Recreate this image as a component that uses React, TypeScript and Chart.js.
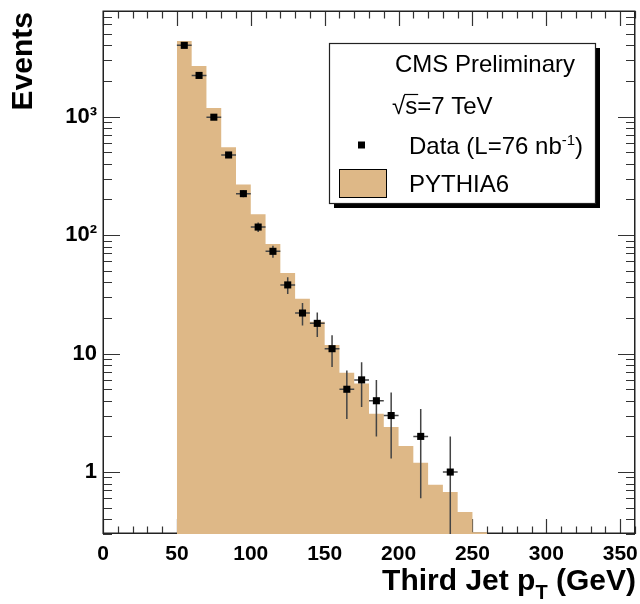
import React, { useEffect, useRef } from 'react';
import { Chart, registerables } from 'chart.js';

Chart.register(...registerables);

// ---- data ----
const binLowEdges = [50, 60, 70, 80, 90, 100, 110, 120, 130, 140, 150, 160, 170, 180, 190, 200, 210, 220, 230, 240, 250];
const binWidth = 10;
const pythiaValues = [4350, 2680, 1183, 552, 267, 150, 84, 48, 29, 18.6, 11.8, 6.9, 5.6, 3.1, 2.4, 1.66, 1.2, 0.78, 0.68, 0.46, 0.31];

const dataCenters = [55, 65, 75, 85, 95, 105, 115, 125, 135, 145, 155, 165, 175, 185, 195, 215, 235];
const dataCounts = [4000, 2230, 990, 475, 224, 117, 73, 38, 22, 18, 11, 5, 6, 4, 3, 2, 1];
const dataErrors = [63, 47, 31, 22, 15, 10.8, 8.5, 6.2, 4.7, 4.2, 3.3, 2.2, 2.45, 2, 1.7, 1.4, 1];

const xTickValues = [0, 50, 100, 150, 200, 250, 300, 350];
const yTickValues = [1, 10, 100, 1000];
const yTickLabels = ['1', '10', '10²', '10³'];

const X_MIN = 0;
const X_MAX = 360;
const Y_MIN = 0.3;
const Y_MAX = 7800;

const FILL = '#DEB887';
const FONT = '"Liberation Sans", Arial, Helvetica, sans-serif';

const framePlugin = {
  id: 'rootFrame',
  beforeDatasetsDraw(chart: any) {
    const { ctx, chartArea } = chart;
    const { left, right, top, bottom } = chartArea;
    const xs = chart.scales.x;
    const ys = chart.scales.y;
    ctx.save();
    ctx.strokeStyle = '#333';
    ctx.lineWidth = 1.2;
    // x ticks
    for (let v = X_MIN; v <= X_MAX; v += 10) {
      const px = Math.round(xs.getPixelForValue(v)) + 0.5;
      const len = v % 50 === 0 ? 15 : 7.5;
      ctx.beginPath();
      ctx.moveTo(px, bottom);
      ctx.lineTo(px, bottom - len);
      ctx.moveTo(px, top);
      ctx.lineTo(px, top + len);
      ctx.stroke();
    }
    // y ticks (log)
    for (let d = -1; d <= 3; d++) {
      for (let m = 1; m <= 9; m++) {
        const v = m * Math.pow(10, d);
        if (v < Y_MIN || v > Y_MAX) continue;
        const py = Math.round(ys.getPixelForValue(v)) + 0.5;
        const len = m === 1 ? 17 : 9;
        ctx.beginPath();
        ctx.moveTo(left, py);
        ctx.lineTo(left + len, py);
        ctx.moveTo(right, py);
        ctx.lineTo(right - len, py);
        ctx.stroke();
      }
    }
    // frame
    ctx.strokeStyle = '#222';
    ctx.lineWidth = 1.5;
    ctx.strokeRect(left + 0.25, top + 0.25, right - left - 0.5, bottom - top - 1);
    ctx.restore();
  },
};

const errorBarPlugin = {
  id: 'errorBars',
  beforeDatasetDraw(chart: any, args: any) {
    if (args.index !== 1) return;
    const { ctx, chartArea } = chart;
    const xs = chart.scales.x;
    const ys = chart.scales.y;
    ctx.save();
    ctx.beginPath();
    ctx.rect(chartArea.left, chartArea.top, chartArea.right - chartArea.left, chartArea.bottom - chartArea.top);
    ctx.clip();
    ctx.strokeStyle = '#444';
    ctx.lineWidth = 1.5;
    dataCenters.forEach((xc, i) => {
      const y = dataCounts[i];
      const e = dataErrors[i];
      const px = xs.getPixelForValue(xc);
      const py = ys.getPixelForValue(y);
      const yHi = ys.getPixelForValue(y + e);
      const lo = y - e;
      const yLo = lo > 0 ? ys.getPixelForValue(lo) : chartArea.bottom + 2;
      ctx.beginPath();
      ctx.moveTo(px, yHi);
      ctx.lineTo(px, yLo);
      ctx.moveTo(xs.getPixelForValue(xc - binWidth / 2), py);
      ctx.lineTo(xs.getPixelForValue(xc + binWidth / 2), py);
      ctx.stroke();
    });
    ctx.restore();
  },
};

const legendPlugin = {
  id: 'rootLegend',
  afterDraw(chart: any) {
    const { ctx } = chart;
    const L = 329, T = 43, R = 595, B = 203;
    ctx.save();
    // shadow
    ctx.fillStyle = '#000';
    ctx.fillRect(L + 5, T + 5, R - L, B - T);
    ctx.fillStyle = '#fff';
    ctx.fillRect(L, T, R - L, B - T);
    ctx.strokeStyle = '#222';
    ctx.lineWidth = 1.2;
    ctx.strokeRect(L + 0.5, T + 0.5, R - L, B - T);

    ctx.fillStyle = '#000';
    ctx.textBaseline = 'alphabetic';
    ctx.textAlign = 'left';
    ctx.font = `24px ${FONT}`;
    ctx.fillText('CMS Preliminary', 395, 72);

    // sqrt(s)=7 TeV
    const sx = 392, sy = 114;
    ctx.fillText('√', sx, sy);
    const wr = ctx.measureText('√').width;
    ctx.fillText('s=7 TeV', sx + wr, sy);
    const ws = ctx.measureText('s').width;
    ctx.strokeStyle = '#000';
    ctx.lineWidth = 1.2;
    ctx.beginPath();
    ctx.moveTo(sx + wr - 1, sy - 19.5);
    ctx.lineTo(sx + wr + ws + 1, sy - 19.5);
    ctx.stroke();

    // data entry
    ctx.fillRect(358, 141.5, 7, 7);
    let tx = 409;
    const ty = 154;
    ctx.fillText('Data (L=76 nb', tx, ty);
    tx += ctx.measureText('Data (L=76 nb').width;
    ctx.font = `15px ${FONT}`;
    ctx.fillText('-1', tx, ty - 9);
    tx += ctx.measureText('-1').width;
    ctx.font = `24px ${FONT}`;
    ctx.fillText(')', tx, ty);

    // pythia entry
    ctx.fillStyle = FILL;
    ctx.fillRect(339, 169, 47, 28);
    ctx.strokeStyle = '#000';
    ctx.lineWidth = 1;
    ctx.strokeRect(339.5, 169.5, 47, 28);
    ctx.fillStyle = '#000';
    ctx.fillText('PYTHIA6', 409, 192);

    // axis titles
    ctx.font = `bold 30px ${FONT}`;
    ctx.save();
    ctx.translate(24, 12);
    ctx.rotate(-Math.PI / 2);
    ctx.textAlign = 'right';
    ctx.textBaseline = 'middle';
    ctx.fillText('Events', 0, 0);
    ctx.restore();

    // x title: "Third Jet p_T (GeV)" right-aligned at 636
    ctx.textAlign = 'left';
    ctx.textBaseline = 'alphabetic';
    const base = 590;
    const part1 = 'Third Jet p';
    const part3 = ' (GeV)';
    ctx.font = `bold 30px ${FONT}`;
    const w1 = ctx.measureText(part1).width;
    const w3 = ctx.measureText(part3).width;
    ctx.font = `bold 20px ${FONT}`;
    const w2 = ctx.measureText('T').width;
    let x0 = 636 - (w1 + w2 + w3);
    ctx.font = `bold 30px ${FONT}`;
    ctx.fillText(part1, x0, base);
    ctx.font = `bold 20px ${FONT}`;
    ctx.fillText('T', x0 + w1, base + 9);
    ctx.font = `bold 30px ${FONT}`;
    ctx.fillText(part3, x0 + w1 + w2, base);
    ctx.restore();
  },
};

export default function App() {
  const canvasRef = useRef<HTMLCanvasElement | null>(null);

  useEffect(() => {
    if (!canvasRef.current) return;
    const histPoints = binLowEdges.map((x, i) => ({ x, y: pythiaValues[i] }));
    histPoints.push({ x: binLowEdges[binLowEdges.length - 1] + binWidth, y: pythiaValues[pythiaValues.length - 1] });
    const dataPoints = dataCenters.map((x, i) => ({ x, y: dataCounts[i] }));

    const chart = new Chart(canvasRef.current, {
      type: 'line',
      data: {
        datasets: [
          {
            label: 'PYTHIA6',
            data: histPoints,
            order: 2,
            stepped: true,
            fill: 'start',
            backgroundColor: FILL,
            borderColor: 'rgba(0,0,0,0)',
            borderWidth: 0,
            pointRadius: 0,
            tension: 0,
          },
          {
            label: 'Data (L=76 nb-1)',
            data: dataPoints,
            order: 1,
            showLine: false,
            pointStyle: 'rect',
            pointRadius: 5,
            pointBackgroundColor: '#000',
            pointBorderWidth: 0,
            borderColor: '#000',
            backgroundColor: '#000',
          },
        ],
      } as any,
      options: {
        responsive: false,
        animation: false,
        events: [],
        layout: { padding: { top: 11, right: 4, left: 0, bottom: 0 } },
        plugins: {
          legend: { display: false },
          tooltip: { enabled: false },
          title: { display: false },
        },
        scales: {
          x: {
            type: 'linear',
            min: X_MIN,
            max: X_MAX,
            grid: { display: false, drawTicks: false },
            border: { display: false },
            afterBuildTicks: (scale: any) => {
              scale.ticks = xTickValues.map((v) => ({ value: v }));
            },
            afterFit: (scale: any) => {
              scale.height = 70;
              scale.paddingLeft = 0;
              scale.paddingRight = 0;
            },
            ticks: {
              autoSkip: false,
              maxRotation: 0,
              padding: 8,
              color: '#000',
              font: { family: FONT, size: 21, weight: 'bold' },
              callback: (v: any) => String(v),
            },
          },
          y: {
            type: 'logarithmic',
            min: Y_MIN,
            max: Y_MAX,
            grid: { display: false, drawTicks: false },
            border: { display: false },
            afterBuildTicks: (scale: any) => {
              scale.ticks = yTickValues.map((v) => ({ value: v }));
            },
            afterFit: (scale: any) => {
              scale.width = 103;
              scale.paddingTop = 0;
              scale.paddingBottom = 0;
            },
            ticks: {
              autoSkip: false,
              padding: 6,
              color: '#000',
              font: { family: FONT, size: 22, weight: 'bold' },
              callback: (v: any) => {
                const i = yTickValues.indexOf(Number(v));
                return i >= 0 ? yTickLabels[i] : '';
              },
            },
          },
        },
      } as any,
      plugins: [framePlugin, errorBarPlugin, legendPlugin],
    });
    return () => chart.destroy();
  }, []);

  return (
    <div style={{ position: 'absolute', left: 0, top: 0, width: 640, height: 604, background: '#fff' }}>
      <canvas ref={canvasRef} width={640} height={604} style={{ display: 'block', width: 640, height: 604 }} />
    </div>
  );
}
